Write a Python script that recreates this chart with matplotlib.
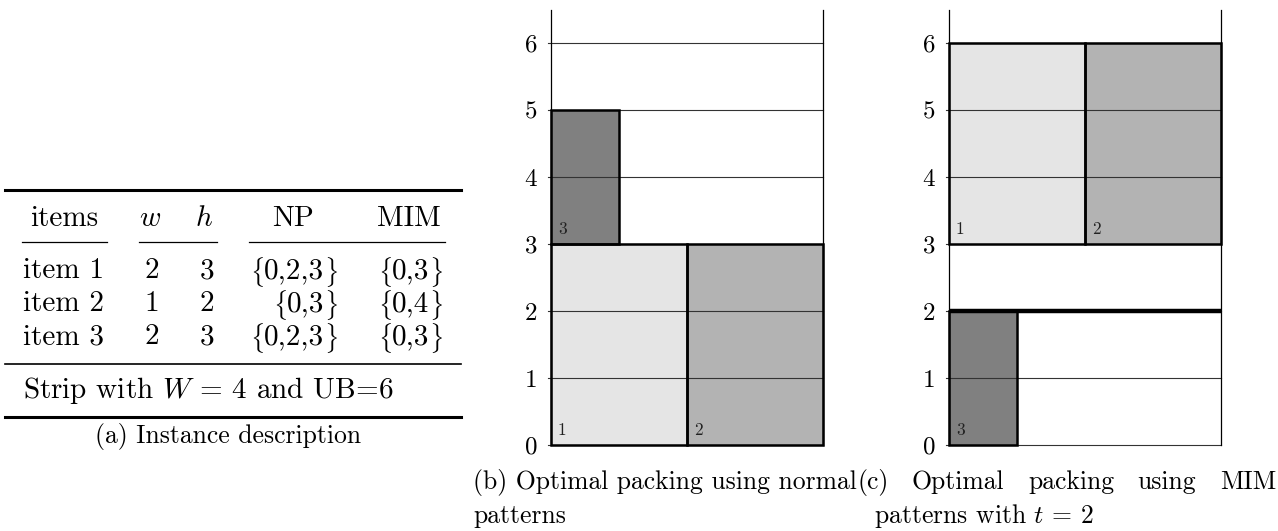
import matplotlib
matplotlib.use("Agg")
import matplotlib.pyplot as plt
from matplotlib.patches import Rectangle

plt.rcParams['font.family'] = 'serif'
plt.rcParams['font.serif'] = ['cmr10']
plt.rcParams['mathtext.fontset'] = 'cm'
plt.rcParams['axes.unicode_minus'] = False

# region Data
item_names = ["item 1", "item 2", "item 3"]
item_w = [2, 1, 2]
item_h = [3, 2, 3]
item_np = ["0,2,3", "0,3", "0,2,3"]
item_mim = ["0,3", "0,4", "0,3"]
strip_text = r"Strip with $W$ = 4 and UB=6"

# rectangles as drawn in the packings
rect_labels = ["1", "2", "3"]
rect_w = [2, 2, 1]
rect_h = [3, 3, 2]
rect_colors = ["#e5e5e5", "#b3b3b3", "#808080"]
b_x = [0, 2, 0]
b_y = [0, 0, 3]
c_x = [0, 2, 0]
c_y = [3, 3, 0]
strip_width = 4
strip_ub = 6
t_cut = 2
# endregion

fig = plt.figure(figsize=(12.78, 5.31), dpi=100)
W_PX, H_PX = 1278, 531
renderer = fig.canvas.get_renderer()

# region Table (a)
tab = fig.add_axes([0, 0, 1, 1])
tab.set_xlim(0, W_PX)
tab.set_ylim(H_PX, 0)
tab.axis("off")
fs = 21
cap_fs = 18.5


def width_px(t):
    return t.get_window_extent(renderer).width


def set_cell(x_right, y, inner):
    # right aligned "{inner}" with braces a bit smaller than the mathtext default
    rb = tab.text(x_right, y + 1, r"$\}$", ha="right", va="center", fontsize=fs * 0.86)
    x = x_right - width_px(rb)
    mid = tab.text(x, y, inner, ha="right", va="center", fontsize=fs)
    x -= width_px(mid)
    tab.text(x, y + 1, r"$\{$", ha="right", va="center", fontsize=fs * 0.86)


tab.plot([5, 461], [190, 190], color="black", lw=2.2)
tab.plot([5, 461], [364, 364], color="black", lw=1.2)
tab.plot([5, 461], [417, 417], color="black", lw=2.2)
for x0, x1 in [(22, 107), (139, 217), (249, 445)]:
    tab.plot([x0, x1], [242, 242], color="black", lw=0.9)

tab.text(64, 219, "items", ha="center", va="center", fontsize=fs)
tab.text(150, 219, "$w$", ha="center", va="center", fontsize=fs)
tab.text(204, 219, "$h$", ha="center", va="center", fontsize=fs)
tab.text(293, 219, "NP", ha="center", va="center", fontsize=fs)
tab.text(409, 219, "MIM", ha="center", va="center", fontsize=fs)

row_y = [271, 304, 337]
for i in range(len(item_names)):
    tab.text(23, row_y[i], item_names[i], ha="left", va="center", fontsize=fs)
    tab.text(152, row_y[i], str(item_w[i]), ha="center", va="center", fontsize=fs)
    tab.text(207, row_y[i], str(item_h[i]), ha="center", va="center", fontsize=fs)
    set_cell(338, row_y[i], item_np[i])
    set_cell(443, row_y[i], item_mim[i])

tab.text(23, 390, strip_text, ha="left", va="center", fontsize=fs)
tab.text(228, 436, "(a) Instance description", ha="center", va="center", fontsize=cap_fs)

# captions of (b) and (c)
tab.text(473, 482, "(b) Optimal packing using normal", ha="left", va="center", fontsize=cap_fs)
tab.text(473, 516, "patterns", ha="left", va="center", fontsize=cap_fs)

# justified first line of caption (c)
c_words = ["(c)", "Optimal", "packing", "using", "MIM"]
c_left, c_right = 857, 1276
objs = [tab.text(0, 482, w, ha="left", va="center", fontsize=cap_fs) for w in c_words]
widths = [width_px(o) for o in objs]
gap = (c_right - c_left - sum(widths)) / (len(objs) - 1)
xpos = c_left
for o, wd in zip(objs, widths):
    o.set_x(xpos)
    xpos += wd + gap
tab.text(objs[1].get_position()[0] - 38, 516, "patterns with $t$ = 2",
         ha="left", va="center", fontsize=cap_fs)
# endregion


# region Packings (b) and (c)
def draw_strip(left_px, xs, ys, cut=None):
    y0_px, unit_px, top_px = 445, 67.0, 10
    ax = fig.add_axes([left_px / W_PX, (H_PX - y0_px) / H_PX,
                       272 / W_PX, (y0_px - top_px) / H_PX])
    ytop = (y0_px - top_px) / unit_px
    ax.set_xlim(0, strip_width)
    ax.set_ylim(0, ytop)
    for s in ax.spines.values():
        s.set_visible(False)
    ax.set_xticks([])
    ax.set_yticks(range(strip_ub + 1))
    ax.tick_params(axis="y", length=0, pad=10, labelsize=18)

    for k in range(len(rect_labels)):
        ax.add_patch(Rectangle((xs[k], ys[k]), rect_w[k], rect_h[k],
                               facecolor=rect_colors[k], edgecolor="none", zorder=1))
    for yy in range(strip_ub + 1):
        ax.plot([-0.04, strip_width], [yy, yy], color="#333333", lw=0.8, zorder=2, clip_on=False)
    ax.plot([0, 0], [0, ytop], color="black", lw=0.9, zorder=2, clip_on=False)
    ax.plot([strip_width, strip_width], [0, ytop], color="black", lw=0.9, zorder=2, clip_on=False)
    for k in range(len(rect_labels)):
        ax.add_patch(Rectangle((xs[k], ys[k]), rect_w[k], rect_h[k],
                               facecolor="none", edgecolor="black", lw=1.8, zorder=3, clip_on=False))
        ax.text(xs[k] + 0.1, ys[k] + 0.1, rect_labels[k], fontsize=12.5,
                ha="left", va="bottom", color="#222222", zorder=4)
    if cut is not None:
        ax.plot([0, strip_width], [cut, cut], color="black", lw=3.2, zorder=5,
                solid_capstyle="butt", clip_on=False)
    return ax


draw_strip(551, b_x, b_y)
draw_strip(949, c_x, c_y, cut=t_cut)
# endregion

fig.savefig("out.png", dpi=100)
